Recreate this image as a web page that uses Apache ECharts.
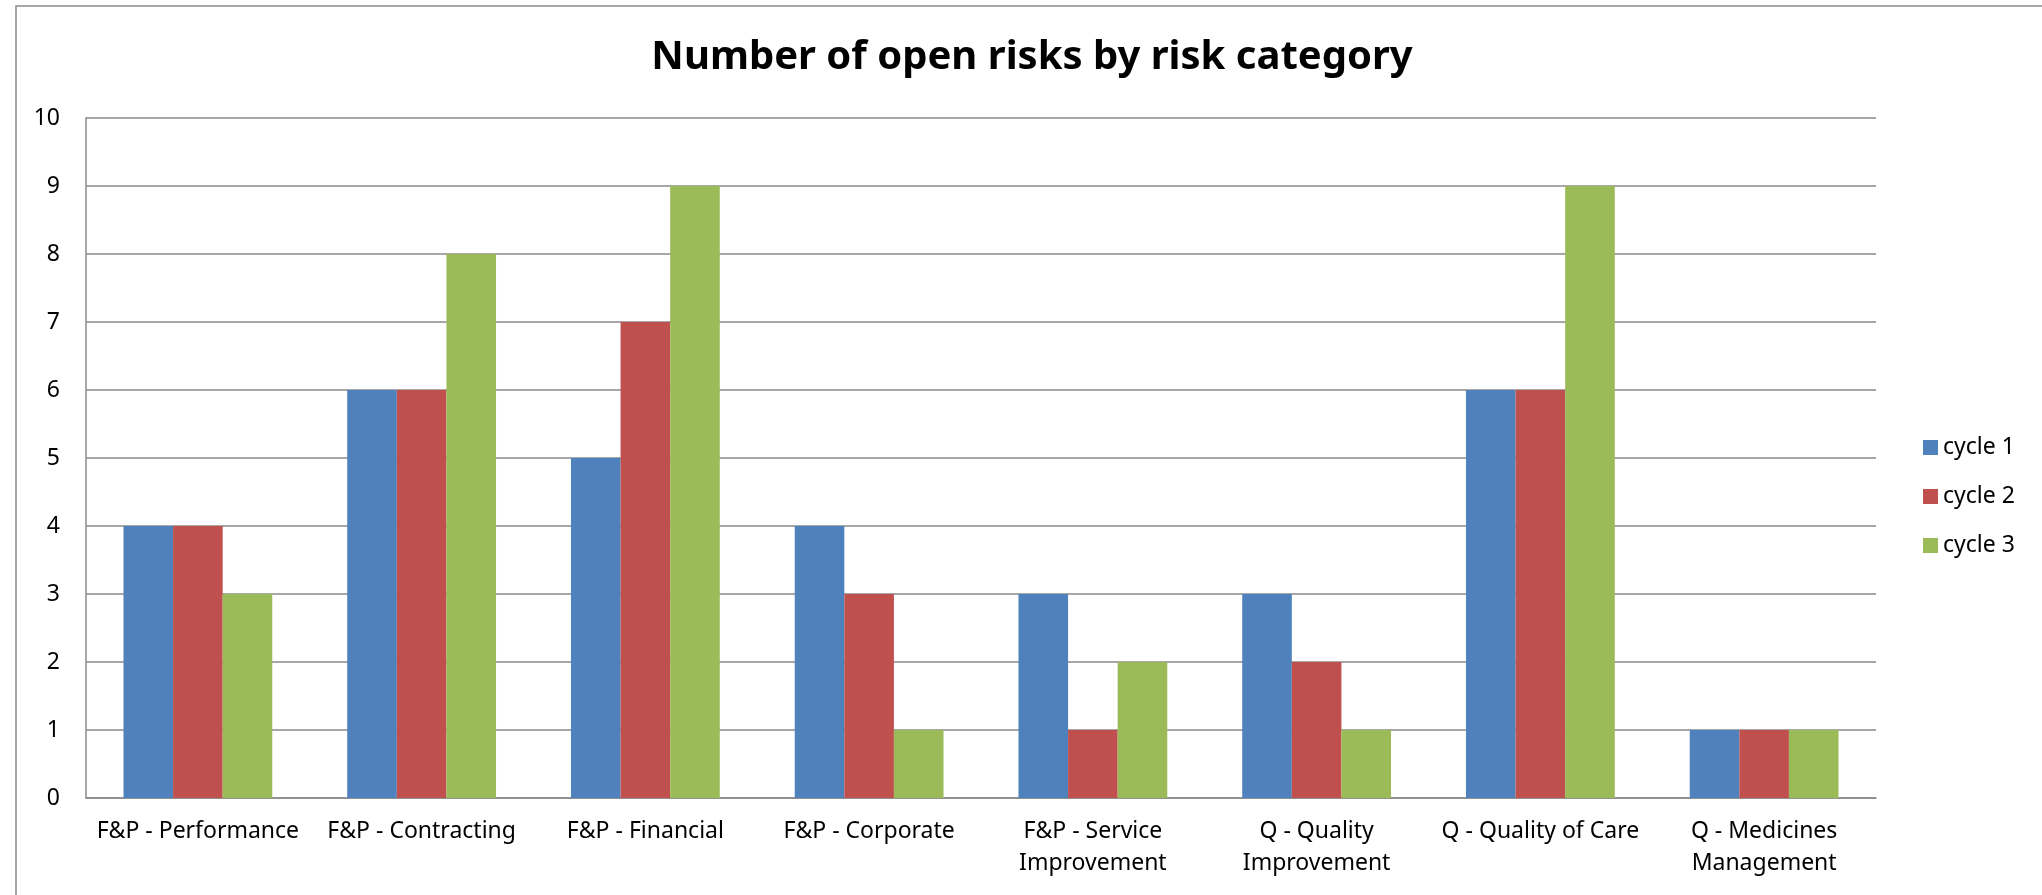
<!DOCTYPE html>
<html>
<head>
<meta charset="utf-8">
<script src="https://cdn.jsdelivr.net/npm/echarts@6/dist/echarts.min.js"></script>
<style>
html,body{margin:0;padding:0;background:#fff;}
#chart{width:2042px;height:895px;}
</style>
</head>
<body>
<div id="chart"></div>
<script>
const categories = [
  'F&P - Performance',
  'F&P - Contracting',
  'F&P - Financial',
  'F&P - Corporate',
  'F&P - Service\nImprovement',
  'Q - Quality\nImprovement',
  'Q - Quality of Care',
  'Q - Medicines\nManagement'
];
const seriesNames = ['cycle 1', 'cycle 2', 'cycle 3'];
const cycle1 = [4, 6, 5, 4, 3, 3, 6, 1];
const cycle2 = [4, 6, 7, 3, 1, 2, 6, 1];
const cycle3 = [3, 8, 9, 1, 2, 1, 9, 1];
const colors = ['#4F81BD', '#C0504D', '#9BBB59'];

const FONT = '"Noto Sans", Lato, sans-serif';
const chart = echarts.init(document.getElementById('chart'), null, {renderer: 'canvas'});
const values = [cycle1, cycle2, cycle3];
chart.setOption({
  animation: false,
  backgroundColor: '#ffffff',
  color: colors,
  title: {
    text: 'Number of open risks by risk category',
    left: 1032,
    textAlign: 'center',
    top: 37,
    padding: 0,
    textStyle: {fontFamily: FONT, fontWeight: 'bold', fontSize: 40, color: '#000', lineHeight: 42}
  },
  graphic: [{
    type: 'rect',
    shape: {x: 16, y: 6, width: 2200, height: 1000},
    style: {fill: 'none', stroke: '#8a8a8a', lineWidth: 1.5},
    silent: true
  }],
  legend: {
    orient: 'vertical',
    left: 1918,
    top: 431,
    itemWidth: 15,
    itemHeight: 15,
    itemGap: 26,
    icon: 'rect',
    data: seriesNames,
    textStyle: {fontFamily: FONT, fontSize: 23, color: '#000', lineHeight: 22}
  },
  grid: {left: 86, right: 166, top: 118, bottom: 97, containLabel: false},
  xAxis: {
    type: 'category',
    data: categories,
    axisLine: {show: true, lineStyle: {color: '#8a8a8a', width: 1.5}},
    axisTick: {show: false},
    axisLabel: {
      interval: 0,
      fontFamily: FONT,
      fontSize: 23,
      color: '#000',
      lineHeight: 32,
      margin: 17
    },
    splitLine: {show: false}
  },
  yAxis: {
    type: 'value',
    min: 0,
    max: 10,
    interval: 1,
    axisLine: {show: true, lineStyle: {color: '#8a8a8a', width: 1.5}},
    axisTick: {show: false},
    axisLabel: {fontFamily: FONT, fontSize: 23, color: '#000', margin: 26},
    splitLine: {show: true, lineStyle: {color: '#8a8a8a', width: 1.5}}
  },
  series: seriesNames.map((name, i) => ({
    name: name,
    type: 'bar',
    data: values[i],
    barGap: '0%',
    barCategoryGap: '33.5%',
    itemStyle: {color: colors[i]}
  }))
});
</script>
</body>
</html>
